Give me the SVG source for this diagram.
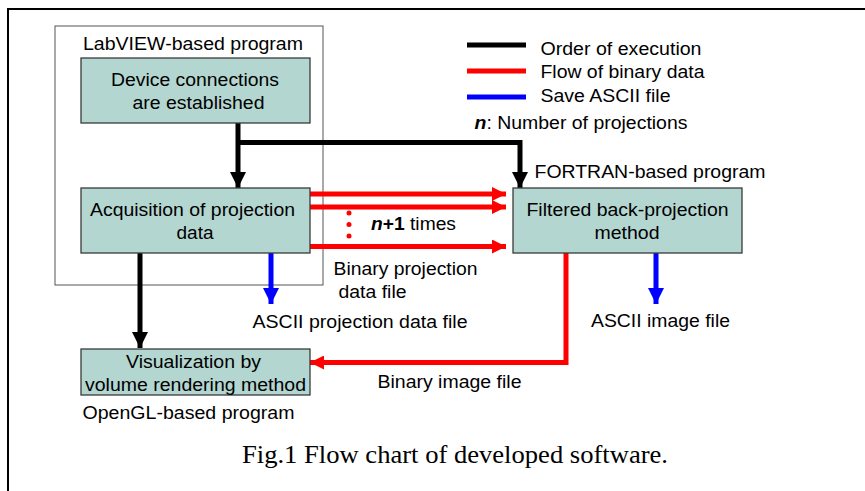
<svg xmlns="http://www.w3.org/2000/svg" width="865" height="491" viewBox="0 0 865 491">
<defs>
<style>
.t{font-family:"Liberation Sans",Arial,sans-serif;font-size:17.5px;fill:#000}
.box{fill:#b3d6d0;stroke:#3a3a3a;stroke-width:1.3}
.k{stroke:#000;stroke-width:5;fill:none}
.r{stroke:#f00;stroke-width:5;fill:none}
.b{stroke:#00f;stroke-width:5;fill:none}
</style>
<marker id="mk" viewBox="0 0 10 10" refX="10" refY="5" markerWidth="3.2" markerHeight="3.2" markerUnits="strokeWidth" orient="auto"><path d="M0,0L10,5L0,10z" fill="#000"/></marker>
<marker id="mr" viewBox="0 0 10 10" refX="10" refY="5" markerWidth="3" markerHeight="2.8" markerUnits="strokeWidth" orient="auto"><path d="M0,0L10,5L0,10z" fill="#f00"/></marker>
<marker id="mb" viewBox="0 0 10 10" refX="10" refY="5" markerWidth="3.2" markerHeight="3.2" markerUnits="strokeWidth" orient="auto"><path d="M0,0L10,5L0,10z" fill="#00f"/></marker>
</defs>
<rect width="865" height="491" fill="#fff"/>
<path d="M8,491V9H866" fill="none" stroke="#000" stroke-width="2"/>
<g id="labview">
<rect x="55" y="26" width="268" height="259" fill="none" stroke="#555" stroke-width="1"/>
<text class="t" x="83" y="50" textLength="220" lengthAdjust="spacingAndGlyphs">LabVIEW-based program</text>
</g>
<g id="legend">
<line x1="467" y1="45" x2="526" y2="45" class="k"/>
<line x1="467" y1="71" x2="526" y2="71" class="r"/>
<line x1="467" y1="97" x2="526" y2="97" class="b"/>
<text class="t" x="540.5" y="55" textLength="161" lengthAdjust="spacingAndGlyphs">Order of execution</text>
<text class="t" x="540.5" y="78" textLength="164" lengthAdjust="spacingAndGlyphs">Flow of binary data</text>
<text class="t" x="540.5" y="102" textLength="130" lengthAdjust="spacingAndGlyphs">Save ASCII file</text>
<text class="t" x="474.5" y="129" textLength="213" lengthAdjust="spacingAndGlyphs"><tspan font-weight="bold" font-style="italic">n</tspan>: Number of projections</text>
</g>
<g id="connectors">
<path d="M238,123V188" class="k" marker-end="url(#mk)"/>
<path d="M238,142.5H520V188" class="k" marker-end="url(#mk)"/>
<path d="M310,194H506" class="r" marker-end="url(#mr)"/>
<path d="M310,207H506" class="r" marker-end="url(#mr)"/>
<path d="M310,246.5H506" class="r" marker-end="url(#mr)"/>
<circle cx="349" cy="213" r="2.5" fill="#f00"/>
<circle cx="349" cy="224.5" r="2.5" fill="#f00"/>
<circle cx="349" cy="236" r="2.5" fill="#f00"/>
<path d="M271,253V304" class="b" marker-end="url(#mb)"/>
<path d="M140,253V348" class="k" marker-end="url(#mk)"/>
<path d="M566,253V362.5H310" class="r" marker-end="url(#mr)"/>
<path d="M656,253V304" class="b" marker-end="url(#mb)"/>
</g>
<g id="device">
<rect class="box" x="81" y="58" width="229" height="65"/>
<text class="t" x="111" y="86" textLength="168" lengthAdjust="spacingAndGlyphs">Device connections</text>
<text class="t" x="132.5" y="109" textLength="132" lengthAdjust="spacingAndGlyphs">are established</text>
</g>
<g id="acquisition">
<rect class="box" x="81" y="188" width="229" height="65"/>
<text class="t" x="90" y="216" textLength="205" lengthAdjust="spacingAndGlyphs">Acquisition of projection</text>
<text class="t" x="176.5" y="239" textLength="37" lengthAdjust="spacingAndGlyphs">data</text>
</g>
<g id="fortran">
<text class="t" x="534.5" y="178" textLength="231" lengthAdjust="spacingAndGlyphs">FORTRAN-based program</text>
</g>
<g id="filtered">
<rect class="box" x="513" y="188" width="229" height="65"/>
<text class="t" x="526.5" y="216" textLength="202" lengthAdjust="spacingAndGlyphs">Filtered back-projection</text>
<text class="t" x="594.5" y="239" textLength="65" lengthAdjust="spacingAndGlyphs">method</text>
</g>
<g id="visualization">
<rect class="box" x="81" y="349" width="229" height="46"/>
<text class="t" x="126" y="368" textLength="135" lengthAdjust="spacingAndGlyphs">Visualization by</text>
<text class="t" x="85" y="391" textLength="221" lengthAdjust="spacingAndGlyphs">volume rendering method</text>
<text class="t" x="82.5" y="419" textLength="212" lengthAdjust="spacingAndGlyphs">OpenGL-based program</text>
</g>
<g id="labels">
<text class="t" x="371" y="230" textLength="85" lengthAdjust="spacingAndGlyphs"><tspan font-weight="bold" font-style="italic">n</tspan><tspan font-weight="bold">+1</tspan> times</text>
<text class="t" x="333.5" y="275" textLength="144" lengthAdjust="spacingAndGlyphs">Binary projection</text>
<text class="t" x="338.5" y="298" textLength="68" lengthAdjust="spacingAndGlyphs">data file</text>
<text class="t" x="252.5" y="328" textLength="215" lengthAdjust="spacingAndGlyphs">ASCII projection data file</text>
<text class="t" x="591" y="327" textLength="139" lengthAdjust="spacingAndGlyphs">ASCII image file</text>
<text class="t" x="377.5" y="388" textLength="144" lengthAdjust="spacingAndGlyphs">Binary image file</text>
</g>
<text x="242" y="463" textLength="426" lengthAdjust="spacingAndGlyphs" font-family="'Liberation Serif','Times New Roman',serif" font-size="25">Fig.1 Flow chart of developed software.</text>
</svg>
